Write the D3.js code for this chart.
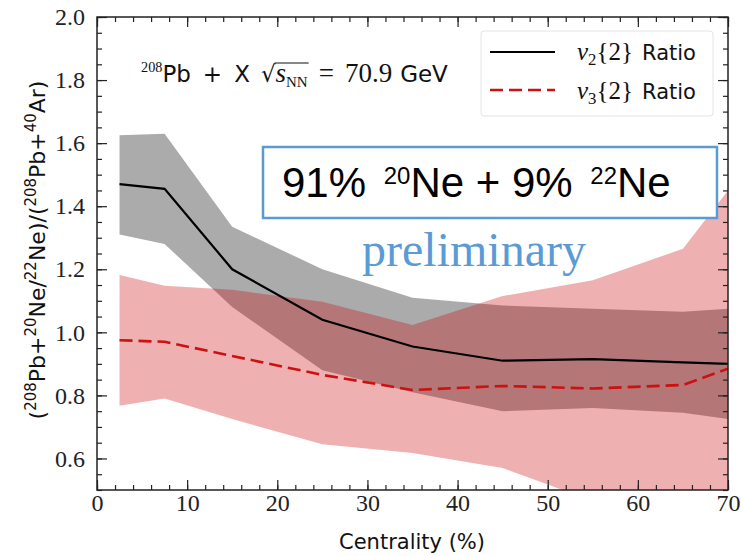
<!DOCTYPE html>
<html><head><meta charset="utf-8">
<script src="https://cdn.jsdelivr.net/npm/d3@7"></script>
<style>body{margin:0;background:#fff}</style></head>
<body><svg id="c" width="742" height="556"></svg>
<script>
// ---- data ----
const centrality = [2.5, 7.5, 15, 25, 35, 45, 55, 65, 70];
const v2Ratio    = [1.47, 1.455, 1.20, 1.04, 0.955, 0.91, 0.915, 0.905, 0.90];
const v2Low      = [1.31, 1.28, 1.08, 0.88, 0.81, 0.75, 0.76, 0.745, 0.725];
const v2High     = [1.625, 1.63, 1.335, 1.20, 1.11, 1.085, 1.075, 1.065, 1.075];
const v3Ratio    = [0.975, 0.97, 0.925, 0.865, 0.817, 0.83, 0.822, 0.833, 0.885];
const v3Low      = [0.767, 0.79, 0.725, 0.645, 0.617, 0.57, 0.465, 0.41, 0.38];
const v3High     = [1.182, 1.148, 1.135, 1.097, 1.023, 1.115, 1.165, 1.265, 1.45];
const xTicks = [0, 10, 20, 30, 40, 50, 60, 70];
const yTicks = [0.6, 0.8, 1.0, 1.2, 1.4, 1.6, 1.8, 2.0];

const svg = d3.select("#c");
const L = 97, R = 728, T = 17, B = 490;
const x = d3.scaleLinear().domain([0, 70]).range([L, R]);
const y = d3.scaleLinear().domain([0.5, 2.0]).range([B, T]);
const SERIF = "'Liberation Serif', 'Times New Roman', serif", SANS = "'DejaVu Sans', sans-serif";

svg.append("defs").append("clipPath").attr("id", "clip")
  .append("rect").attr("x", L).attr("y", T).attr("width", R - L).attr("height", B - T);

const plot = svg.append("g").attr("clip-path", "url(#clip)");
const rows = centrality.map((c, i) => ({c, v2: v2Ratio[i], v2l: v2Low[i], v2h: v2High[i], v3: v3Ratio[i], v3l: v3Low[i], v3h: v3High[i]}));

const areaV2 = d3.area().x(d => x(d.c)).y0(d => y(d.v2l)).y1(d => y(d.v2h));
const areaV3 = d3.area().x(d => x(d.c)).y0(d => y(d.v3l)).y1(d => y(d.v3h));
plot.append("path").datum(rows).attr("d", areaV2).attr("fill", "#000").attr("fill-opacity", 0.33);
plot.append("path").datum(rows).attr("d", areaV3).attr("fill", "#cc0008").attr("fill-opacity", 0.31);

const lineV2 = d3.line().x(d => x(d.c)).y(d => y(d.v2));
const lineV3 = d3.line().x(d => x(d.c)).y(d => y(d.v3));
plot.append("path").datum(rows).attr("d", lineV2).attr("fill", "none").attr("stroke", "#000").attr("stroke-width", 2.2);
plot.append("path").datum(rows).attr("d", lineV3).attr("fill", "none").attr("stroke", "#cc1111").attr("stroke-width", 2.6).attr("stroke-dasharray", "13,6");

// ---- axes ----
const xMinor = d3.range(0, 70.001, 2);
const yMinor = d3.range(0.5, 2.0001, 0.05);
function styleAxis(g) {
  g.select(".domain").remove();
  g.selectAll("line").attr("stroke", "#222").attr("stroke-width", 1.2);
}
const fmtY = d3.format(".1f");
const gxB = svg.append("g").attr("transform", `translate(0,${B})`)
  .call(d3.axisBottom(x).tickValues(xTicks).tickSize(-10).tickPadding(4).tickFormat(d3.format("d")));
gxB.call(styleAxis);
gxB.attr("font-family", SERIF).attr("font-size", 24);
gxB.selectAll("text").attr("font-family", SERIF).attr("fill", "#222").attr("dy", "0.71em");
svg.append("g").attr("transform", `translate(0,${B})`).call(d3.axisBottom(x).tickValues(xMinor).tickSize(-5).tickFormat("")).call(styleAxis);
svg.append("g").attr("transform", `translate(0,${T})`).call(d3.axisTop(x).tickValues(xTicks).tickSize(-10).tickFormat("")).call(styleAxis);
svg.append("g").attr("transform", `translate(0,${T})`).call(d3.axisTop(x).tickValues(xMinor).tickSize(-5).tickFormat("")).call(styleAxis);

const gyL = svg.append("g").attr("transform", `translate(${L},0)`)
  .call(d3.axisLeft(y).tickValues(yTicks).tickSize(-10).tickPadding(12).tickFormat(fmtY));
gyL.call(styleAxis);
gyL.attr("font-family", SERIF).attr("font-size", 24);
gyL.selectAll("text").attr("font-family", SERIF).attr("fill", "#222");
svg.append("g").attr("transform", `translate(${L},0)`).call(d3.axisLeft(y).tickValues(yMinor).tickSize(-5).tickFormat("")).call(styleAxis);
svg.append("g").attr("transform", `translate(${R},0)`).call(d3.axisRight(y).tickValues(yTicks).tickSize(-10).tickFormat("")).call(styleAxis);
svg.append("g").attr("transform", `translate(${R},0)`).call(d3.axisRight(y).tickValues(yMinor).tickSize(-5).tickFormat("")).call(styleAxis);

svg.append("rect").attr("x", L).attr("y", T).attr("width", R - L).attr("height", B - T)
  .attr("fill", "none").attr("stroke", "#222").attr("stroke-width", 1.5);

// ---- rich text helper ----
function rich(parent, xx, yy, parts, base) {
  const t = parent.append("text").attr("x", xx).attr("y", yy)
    .attr("font-family", base.family).attr("font-size", base.size).attr("fill", base.fill || "#111");
  let shift = 0;
  parts.forEach(p => {
    const s = t.append("tspan").text(p.t);
    let target = p.sup ? -base.size * (p.raise || 0.42) : p.sub ? base.size * 0.22 : 0;
    s.attr("dy", target - shift); shift = target;
    if (p.dx) s.attr("dx", p.dx);
    if (p.sup || p.sub) s.attr("font-size", base.size * (p.scale || 0.68));
    if (p.size) s.attr("font-size", p.size);
    if (p.family) s.attr("font-family", p.family);
    if (p.italic) s.attr("font-style", "italic");
  });
  return t;
}

// x label
svg.append("text").attr("x", 412).attr("y", 549).attr("text-anchor", "middle")
  .attr("font-family", SANS).attr("font-size", 21).attr("fill", "#111").text("Centrality (%)");

// y label
const yl = rich(svg, 0, 0, [
  {t: "("}, {t: "208", sup: true}, {t: "Pb+"}, {t: "20", sup: true}, {t: "Ne/"}, {t: "22", sup: true},
  {t: "Ne)/("}, {t: "208", sup: true}, {t: "Pb+"}, {t: "40", sup: true}, {t: "Ar)"}
], {family: SANS, size: 22});
yl.attr("text-anchor", "middle").attr("transform", "translate(45,250) rotate(-90)");

// annotation
const ann = rich(svg, 141, 82, [
  {t: "208", sup: true, family: SERIF, scale: 0.62}, {t: "Pb"}, {t: "+", dx: 12}, {t: "X", dx: 12}, {t: "√", family: SANS, dx: 11},
  {t: "s", italic: true, family: SERIF, size: 27}, {t: "NN", sub: true, family: SERIF, scale: 0.65},
  {t: "=", family: SERIF, size: 27, dx: 11}, {t: "70.9", family: SERIF, size: 27, dx: 11}, {t: "GeV", dx: 8}
], {family: SANS, size: 23});
(function () {
  const node = ann.node();
  const tsp = ann.selectAll("tspan").nodes();
  let idx = 0; const starts = [];
  tsp.forEach(ts => { starts.push(idx); idx += ts.textContent.length; });
  const iEnd = starts[6] + 1;
  const b = node.getEndPositionOfChar(iEnd).x;
  const ext = node.getExtentOfChar(starts[4]);
  svg.append("line").attr("x1", ext.x + ext.width - 1).attr("x2", b + 1)
    .attr("y1", ext.y + 2).attr("y2", ext.y + 2).attr("stroke", "#111").attr("stroke-width", 1.2);
})();

// legend
svg.append("rect").attr("x", 481).attr("y", 31).attr("width", 232).attr("height", 85)
  .attr("fill", "#fff").attr("fill-opacity", 0.8).attr("stroke", "#e4e4e4").attr("stroke-width", 1).attr("rx", 3);
svg.append("line").attr("x1", 490).attr("x2", 555).attr("y1", 52).attr("y2", 52).attr("stroke", "#000").attr("stroke-width", 2.2);
svg.append("line").attr("x1", 490).attr("x2", 555).attr("y1", 90).attr("y2", 90).attr("stroke", "#cc1111").attr("stroke-width", 2.6).attr("stroke-dasharray", "13,6");
[["2", 60], ["3", 99]].forEach(([k, yy]) => {
  rich(svg, 577, yy, [{t: "v", italic: true, size: 25}, {t: k, sub: true, scale: 0.7}, {t: "{2}", size: 25},
    {t: "Ratio", family: SANS, size: 21, dx: 9}], {family: SERIF, size: 24});
});

// blue annotation box
svg.append("rect").attr("x", 263).attr("y", 147).attr("width", 454).attr("height", 71)
  .attr("fill", "#fff").attr("stroke", "#5b9bd5").attr("stroke-width", 2.5);
rich(svg, 282, 197, [{t: "91% "}, {t: "20", sup: true, scale: 0.57, raise: 0.31, dx: 6}, {t: "Ne + 9% "},
  {t: "22", sup: true, scale: 0.57, raise: 0.31, dx: 6}, {t: "Ne"}],
  {family: "'Liberation Sans', Arial, sans-serif", size: 42, fill: "#000"});

svg.append("text").attr("x", 362).attr("y", 266).attr("font-family", SERIF).attr("font-size", 48)
  .attr("fill", "#5b9bd5").text("preliminary");
</script></body></html>
